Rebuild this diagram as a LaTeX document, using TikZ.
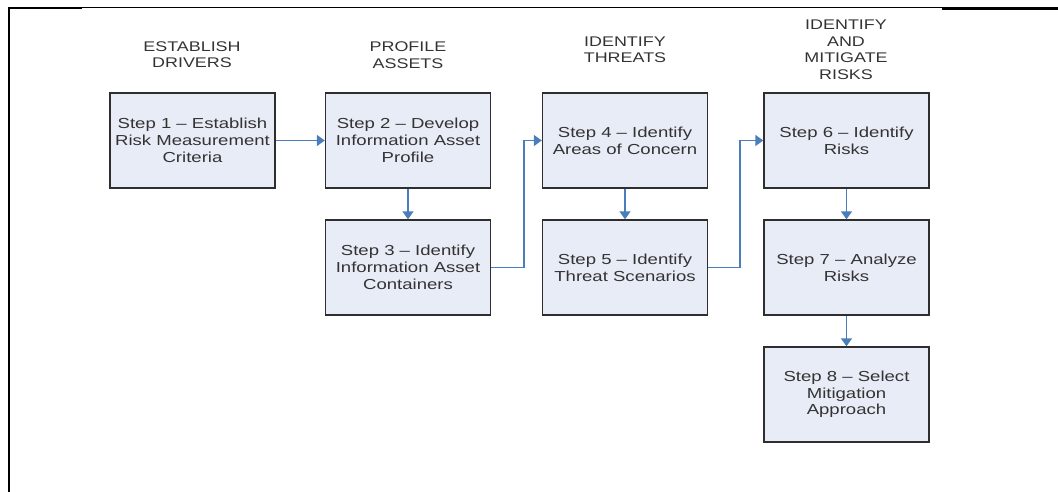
\documentclass[tikz,border=0pt]{standalone}
\usepackage{fontspec}
\setmainfont{Liberation Sans}[FakeStretch=1.28]
\usetikzlibrary{arrows.meta}
\definecolor{boxfill}{HTML}{E8ECF7}
\definecolor{boxline}{HTML}{2E2E2E}
\definecolor{flow}{HTML}{4A7EBB}
\definecolor{txt}{HTML}{333333}
\tikzset{
  stepbox/.style={draw=boxline, line width=1.4pt, fill=boxfill, minimum width=165pt, minimum height=95pt,
    inner sep=0pt, align=center, text=txt, font=\fontsize{14.5}{16.7}\selectfont},
  phase/.style={align=center, text=txt, inner sep=0pt, font=\fontsize{14}{16.5}\selectfont},
  flowarrow/.style={draw=flow, line width=1.5pt, -{Triangle[width=11pt,length=8pt]}},
  frameline/.style={draw=black}
}
\begin{document}
\begin{tikzpicture}[x=1pt,y=-1pt]
\useasboundingbox (0,0) rectangle (1058,492);
% frame
\draw[frameline, line width=2.2pt] (9,492) -- (9,8) -- (82,8);
\draw[frameline, line width=1pt] (82,7.6) -- (942,7.6);
\draw[frameline, line width=2.8pt] (942,8.2) -- (1058,8.2);
% phase headers
\node[phase] (h1) at (192,54.5) {ESTABLISH\\DRIVERS};
\node[phase] (h2) at (408,55) {PROFILE\\ASSETS};
\node[phase] (h3) at (625,50) {IDENTIFY\\THREATS};
\node[phase] (h4) at (846,50) {IDENTIFY\\AND\\MITIGATE\\RISKS};
% steps
\node[stepbox] (s1) at (192.5,140.5) {Step 1 -- Establish\\Risk Measurement\\Criteria};
\node[stepbox] (s2) at (408,140.5) {Step 2 -- Develop\\Information Asset\\Profile};
\node[stepbox] (s3) at (408,267.5) {Step 3 -- Identify\\Information Asset\\Containers};
\node[stepbox] (s4) at (625,140.5) {Step 4 -- Identify\\Areas of Concern};
\node[stepbox] (s5) at (625,267.5) {Step 5 -- Identify\\Threat Scenarios};
\node[stepbox] (s6) at (846.5,140.5) {Step 6 -- Identify\\Risks};
\node[stepbox] (s7) at (846.5,267.5) {Step 7 -- Analyze\\Risks};
\node[stepbox] (s8) at (846.5,394.5) {Step 8 -- Select\\Mitigation\\Approach};
% connectors
\draw[flowarrow] (s1) -- (s2);
\draw[flowarrow] (s2) -- (s3);
\draw[flowarrow] (s3.east) -- ++(33,0) |- (s4.west);
\draw[flowarrow] (s4) -- (s5);
\draw[flowarrow] (s5.east) -- ++(32,0) |- (s6.west);
\draw[flowarrow] (s6) -- (s7);
\draw[flowarrow] (s7) -- (s8);
\end{tikzpicture}
\end{document}
